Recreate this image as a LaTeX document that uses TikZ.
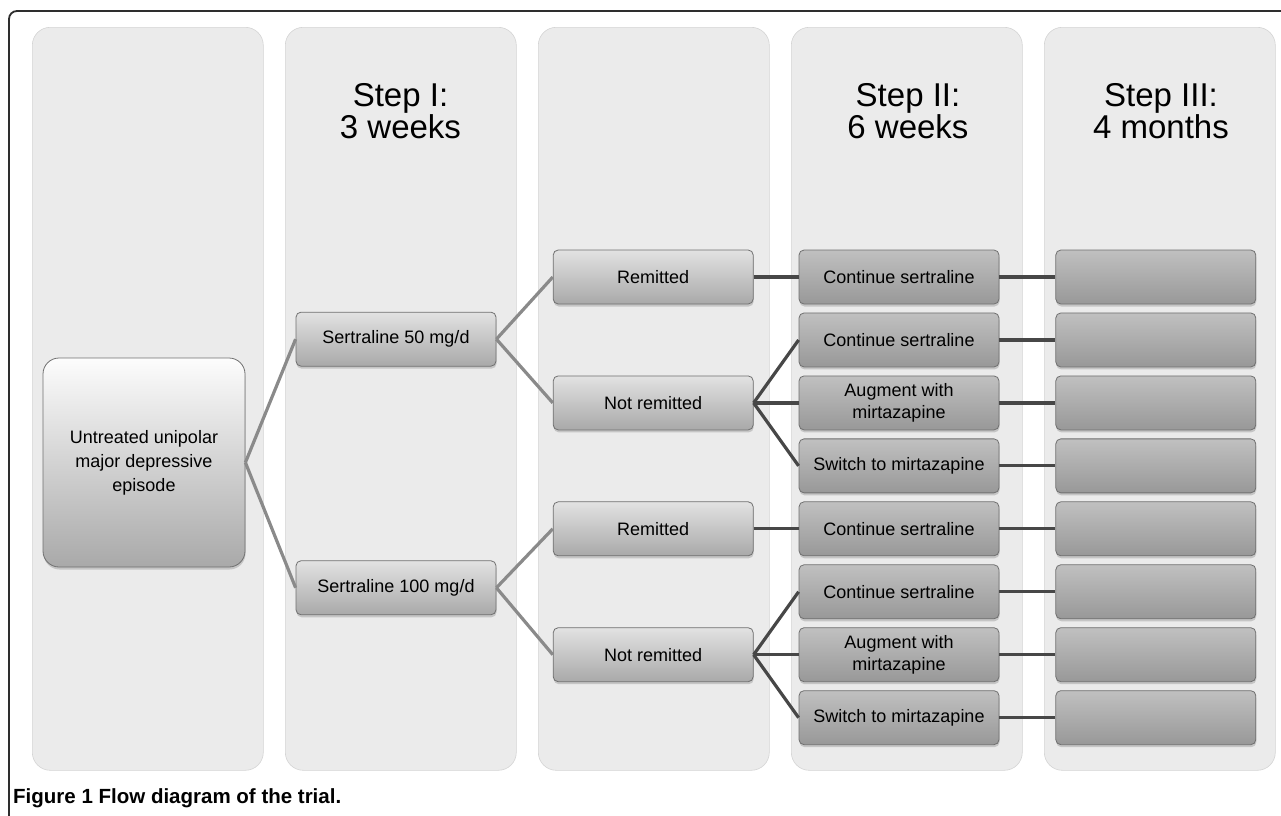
\documentclass[tikz,border=0pt]{standalone}
\usepackage{fontspec}
\setmainfont{Liberation Sans}
\usetikzlibrary{
  positioning,
  shadows
}
\definecolor{lanefill}{HTML}{EBEBEB}
\definecolor{laneedge}{HTML}{D4D4D4}
\definecolor{boxtop}{HTML}{E2E2E2}
\definecolor{boxbot}{HTML}{A9A9A9}
\definecolor{boxedge}{HTML}{707070}
\definecolor{linklite}{HTML}{8A8A8A}
\definecolor{linkdark}{HTML}{474747}
\definecolor{framegrey}{HTML}{2E2E2E}
\tikzset{
  lanebox/.style={
    rectangle, rounded corners=18pt, fill=lanefill, draw=laneedge,
    line width=0.6pt, minimum width=231pt, minimum height=743pt,
    inner sep=0pt, anchor=north west
  },
  stagebox/.style={
    rectangle, rounded corners=5pt, draw=boxedge, line width=0.8pt,
    top color=boxtop, bottom color=boxbot,
    minimum width=200pt, minimum height=54pt, align=center, inner sep=2pt,
    font=\fontsize{18}{22}\selectfont,
    drop shadow={shadow xshift=0.5pt, shadow yshift=-2.5pt, opacity=0.35}
  },
  laterbox/.style={
    stagebox, top color=boxtop!85!black, bottom color=boxbot!90!black
  },
  stephead/.style={
    align=center, inner sep=0pt, anchor=north,
    font=\fontsize{33}{32}\selectfont
  },
  liteline/.style={
    line width=3.2pt, color=linklite
  },
  darkline/.style={
    line width=3.2pt, color=linkdark
  },
}

\begin{document}
\begin{tikzpicture}[x=1pt, y=-1pt]
  \useasboundingbox (0,0) rectangle (1281,815);
  % frame and caption
  \draw[framegrey, line width=1.8pt, rounded corners=8pt] (9,816) |- (1282,11);
  \node[anchor=base west, inner sep=0pt, font=\fontsize{20.5}{22}\selectfont\bfseries] (caption)
    at (13,803) {Figure 1 Flow diagram of the trial.};

  % lanes
  \node[lanebox] (lane1) at (32,27) {};
  \node[lanebox] (lane2) at (285,27) {};
  \node[lanebox] (lane3) at (538,27) {};
  \node[lanebox] (lane4) at (791,27) {};
  \node[lanebox] (lane5) at (1044,27) {};

  \node[stephead] (head1) at (400.5,83) {Step I:\\3 weeks};
  \node[stephead] (head2) at (908,83) {Step II:\\6 weeks};
  \node[stephead] (head3) at (1161,83) {Step III:\\4 months};

  % step II column
  \node[laterbox] (cont1) at (899,277) {Continue sertraline};
  \node[laterbox, below=8.15pt of cont1] (cont2) {Continue sertraline};
  \node[laterbox, below=8.15pt of cont2] (augm1) {Augment with\\mirtazapine};
  \node[laterbox, below=8.15pt of augm1] (swit1) {Switch to mirtazapine};
  \node[laterbox, below=8.15pt of swit1] (cont3) {Continue sertraline};
  \node[laterbox, below=8.15pt of cont3] (cont4) {Continue sertraline};
  \node[laterbox, below=8.15pt of cont4] (augm2) {Augment with\\mirtazapine};
  \node[laterbox, below=8.15pt of augm2] (swit2) {Switch to mirtazapine};

  % step III column
  \node[laterbox, right=56pt of cont1] (fol1) {};
  \node[laterbox, right=56pt of cont2] (fol2) {};
  \node[laterbox, right=56pt of augm1] (fol3) {};
  \node[laterbox, right=56pt of swit1] (fol4) {};
  \node[laterbox, right=56pt of cont3] (fol5) {};
  \node[laterbox, right=56pt of cont4] (fol6) {};
  \node[laterbox, right=56pt of augm2] (fol7) {};
  \node[laterbox, right=56pt of swit2] (fol8) {};

  % outcome column
  \node[stagebox, left=45pt of cont1] (remA) {Remitted};
  \node[stagebox, left=45pt of augm1] (notremA) {Not remitted};
  \node[stagebox, left=45pt of cont3] (remB) {Remitted};
  \node[stagebox, left=45pt of augm2] (notremB) {Not remitted};

  % step I column
  \node[stagebox] (dose50) at (396,339.15) {Sertraline 50 mg/d};
  \node[stagebox] (dose100) at (396,587.75) {Sertraline 100 mg/d};

  \node[stagebox, rounded corners=16pt, minimum width=202pt, minimum height=209pt,
    top color=white!92!boxtop, bottom color=boxbot,
    font=\fontsize{18}{24}\selectfont] (onset) at (144,462.5)
    {Untreated unipolar\\major depressive\\episode};

  % connectors
  \draw[liteline] (onset.east) -- (dose50.west);
  \draw[liteline] (onset.east) -- (dose100.west);
  \draw[liteline] (dose50.east) -- (remA.west);
  \draw[liteline] (dose50.east) -- (notremA.west);
  \draw[liteline] (dose100.east) -- (remB.west);
  \draw[liteline] (dose100.east) -- (notremB.west);

  \draw[darkline] (remA.east) -- (cont1.west);
  \draw[darkline] (notremA.east) -- (cont2.west);
  \draw[darkline] (notremA.east) -- (augm1.west);
  \draw[darkline] (notremA.east) -- (swit1.west);
  \draw[darkline] (remB.east) -- (cont3.west);
  \draw[darkline] (notremB.east) -- (cont4.west);
  \draw[darkline] (notremB.east) -- (augm2.west);
  \draw[darkline] (notremB.east) -- (swit2.west);

  \draw[darkline] (cont1.east) -- (fol1.west);
  \draw[darkline] (cont2.east) -- (fol2.west);
  \draw[darkline] (augm1.east) -- (fol3.west);
  \draw[darkline] (swit1.east) -- (fol4.west);
  \draw[darkline] (cont3.east) -- (fol5.west);
  \draw[darkline] (cont4.east) -- (fol6.west);
  \draw[darkline] (augm2.east) -- (fol7.west);
  \draw[darkline] (swit2.east) -- (fol8.west);
\end{tikzpicture}
\end{document}
